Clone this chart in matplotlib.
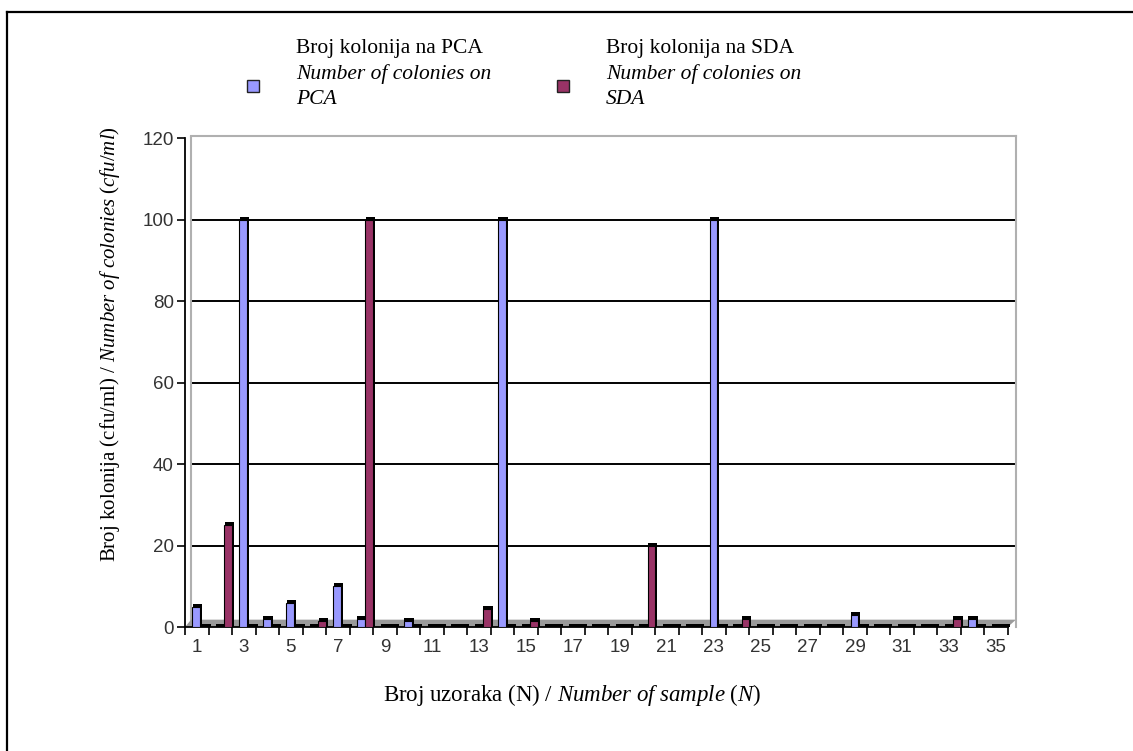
import matplotlib
matplotlib.use('Agg')
import matplotlib.pyplot as plt
from matplotlib.lines import Line2D
from matplotlib.patches import Polygon, Rectangle
import numpy as np

plt.rcParams['mathtext.fontset'] = 'custom'
plt.rcParams['mathtext.it'] = 'Liberation Serif:italic'
plt.rcParams['mathtext.rm'] = 'Liberation Serif'

# podaci
samples = list(range(1, 36))
pca = [5, 0, 100, 2, 6, 0, 10, 2, 0, 1.5,
       0, 0, 0, 100, 0, 0, 0, 0, 0, 0,
       0, 0, 100, 0, 0, 0, 0, 0, 3, 0,
       0, 0, 0, 2, 0]
sda = [0, 25, 0, 0, 0, 1.5, 0, 100, 0, 0,
       0, 0, 4.5, 0, 1.5, 0, 0, 0, 0, 20,
       0, 0, 0, 2, 0, 0, 0, 0, 0, 0,
       0, 0, 2, 0, 0]
yticks = [0, 20, 40, 60, 80, 100, 120]
xlabels = [str(s) for s in samples if s % 2 == 1]

c_pca = '#9999FF'
c_sda = '#993366'
serif = 'Liberation Serif'
sans = 'Liberation Sans'

fig = plt.figure(figsize=(11.33, 7.51), dpi=100)
ax = fig.add_axes([185 / 1133, 1 - 627 / 751, (1016 - 185) / 1133, (627 - 136) / 751])

x = np.array(samples)
w = 0.33
# 3D izgled: tamna bocna strana iza prednje plohe
for xs, vals, col, off in [(x, pca, c_pca, -0.02), (x, sda, c_sda, 0.34)]:
    vals = np.array(vals)
    ax.bar(xs + off + 0.05, vals + 0.7, width=w + 0.08, color='black', zorder=3)
    mask = vals > 0
    ax.bar(xs[mask] + off, vals[mask], width=w, color=col, edgecolor='black',
           linewidth=0.8, zorder=4)

# pod
floor = Polygon([(0.5, 0), (35.5, 0), (35.85, 1.8), (0.76, 1.8)],
                closed=True, color='#9A9A9A', zorder=2, linewidth=0)
ax.add_patch(floor)

# mreza na zadnjem zidu
for yv in yticks[1:-1]:
    ax.plot([0.76, 35.85], [yv, yv], color='black', lw=1.4, zorder=1)
ax.plot([0.76, 0.76], [1.8, 120.5], color='#B0B0B0', lw=1.5, zorder=1)

ax.set_xlim(0.5, 35.85)
ax.set_ylim(0, 120.5)

ax.spines['top'].set_color('#B0B0B0')
ax.spines['top'].set_linewidth(1.5)
ax.spines['top'].set_bounds(0.76, 35.85)
ax.spines['right'].set_color('#B0B0B0')
ax.spines['right'].set_linewidth(1.5)
ax.spines['bottom'].set_bounds(0.5, 35.5)
ax.spines['bottom'].set_linewidth(1.3)
ax.spines['left'].set_linewidth(1.3)
ax.spines['left'].set_bounds(0, 120)

ax.set_yticks(yticks)
ax.set_yticklabels([str(v) for v in yticks], fontfamily=sans, fontsize=13.5,
                   color='#333333')
ax.tick_params(axis='y', direction='out', length=6, width=1.2, pad=2)

ax.set_xticks(np.arange(0.5, 36, 1.0))
ax.set_xticklabels([])
ax.tick_params(axis='x', which='major', direction='out', length=6, width=1.2)
ax.set_xticks([s for s in samples if s % 2 == 1], minor=True)
ax.set_xticklabels(xlabels, minor=True, fontfamily=sans, fontsize=13.5,
                   color='#333333')
ax.tick_params(axis='x', which='minor', length=0, pad=9)

fig.text(572 / 1133, 1 - 695 / 751,
         'Broj uzoraka (N) / $\\it{Number\\ of\\ sample\\ (N)}$',
         ha='center', va='center', fontfamily=serif, fontsize=16.5)
fig.text(110 / 1133, 1 - 344 / 751,
         'Broj kolonija (cfu/ml) / $\\it{Number\\ of\\ colonies\\ (cfu/ml)}$',
         rotation=90, ha='center', va='center', fontfamily=serif, fontsize=15)

# legenda
for mx, tx, name, col in [(253, 296, 'PCA', c_pca), (563, 606, 'SDA', c_sda)]:
    fig.add_artist(Rectangle(((mx - 6) / 1133, 1 - 92 / 751), 12 / 1133, 12 / 751,
                             facecolor=col, edgecolor='#222222', lw=1.0))
    fig.text(tx / 1133, 1 - 48 / 751, 'Broj kolonija na ' + name,
             fontfamily=serif, fontsize=15.5, va='center')
    fig.text(tx / 1133, 1 - 74 / 751, 'Number of colonies on',
             fontfamily=serif, fontsize=15.5, style='italic', va='center')
    fig.text(tx / 1133, 1 - 100 / 751, name,
             fontfamily=serif, fontsize=15.5, style='italic', va='center')

# okvir
fig.add_artist(Line2D([7 / 1133, 7 / 1133], [0, 1 - 12 / 751], color='black', lw=1.6))
fig.add_artist(Line2D([7 / 1133, 1], [1 - 12 / 751, 1 - 12 / 751], color='black', lw=1.6))

fig.savefig('out.png', dpi=100)
